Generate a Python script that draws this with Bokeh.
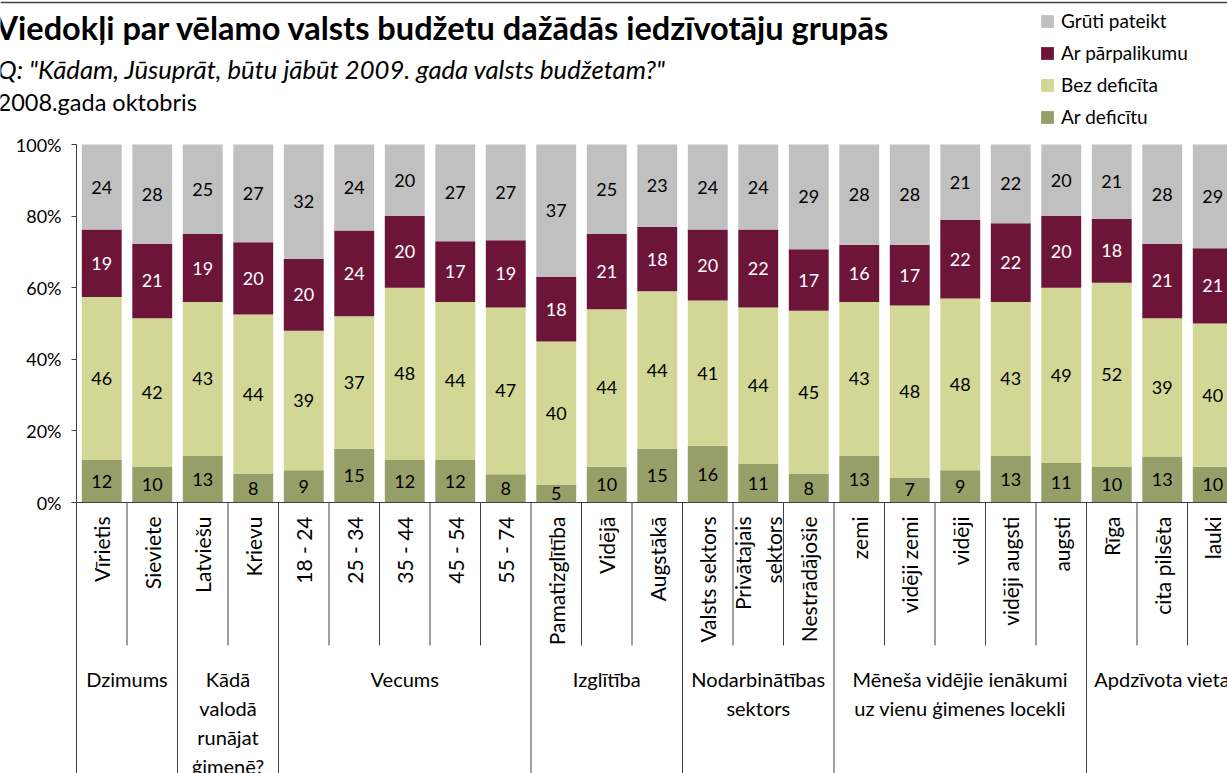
import numpy as np
from bokeh.plotting import figure
from bokeh.models import (ColumnDataSource, Range1d, FixedTicker, NumeralTickFormatter,
                          Span, Label, Legend, LegendItem, LinearAxis)
from bokeh.core.properties import value
from bokeh.embed import file_html
from bokeh.resources import INLINE

# ---------------- data ----------------
categories = ["Vīrietis", "Sieviete", "Latviešu", "Krievu", "18 - 24", "25 - 34", "35 - 44",
              "45 - 54", "55 - 74", "Pamatizglītība", "Vidējā", "Augstākā", "Valsts sektors",
              "Privātajais\nsektors", "Nestrādājošie", "zemi", "vidēji zemi", "vidēji",
              "vidēji augsti", "augsti", "Rīga", "cita pilsēta", "lauki"]
groups = ["Dzimums", "Kādā\nvalodā\nrunājat\nģimenē?", "Vecums", "Izglītība",
          "Nodarbinātības\nsektors", "Mēneša vidējie ienākumi\nuz vienu ģimenes locekli",
          "Apdzīvota vieta"]
group_sizes = [2, 2, 5, 3, 3, 5, 3]

ar_deficitu = [12, 10, 13, 8, 9, 15, 12, 12, 8, 5, 10, 15, 16, 11, 8, 13, 7, 9, 13, 11, 10, 13, 10]
bez_deficita = [46, 42, 43, 44, 39, 37, 48, 44, 47, 40, 44, 44, 41, 44, 45, 43, 48, 48, 43, 49, 52, 39, 40]
ar_parpalikumu = [19, 21, 19, 20, 20, 24, 20, 17, 19, 18, 21, 18, 20, 22, 17, 16, 17, 22, 22, 20, 18, 21, 21]
gruti_pateikt = [24, 28, 25, 27, 32, 24, 20, 27, 27, 37, 25, 23, 24, 24, 29, 28, 28, 21, 22, 20, 21, 28, 29]
series_names = ["Ar deficītu", "Bez deficīta", "Ar pārpalikumu", "Grūti pateikt"]
y_ticks = [0, 0.2, 0.4, 0.6, 0.8, 1.0]

title = "Viedokļi par vēlamo valsts budžetu dažādās iedzīvotāju grupās"
subtitle = "Q: \"Kādam, Jūsuprāt, būtu jābūt 2009. gada valsts budžetam?\""
period = "2008.gada oktobris"

# ---------------- style / layout ----------------
colors = ["#979F68", "#D2D796", "#6D1538", "#C0C0C0"]
label_colors = ["black", "black", "white", "black"]
FONT = "Lato"
W, H = 1227, 773
LEFT = 76          # px of the value axis
PITCH = 50.5       # px per category
ZERO = 502         # px of 0 %
UNIT = 358         # px of 100 %
LH = 1.21          # line height for multi-line group labels


def px2x(px):
    return (px - LEFT) / PITCH


def px2y(py):
    return (ZERO - py) / UNIT


p = figure(width=W, height=H, output_backend="svg", toolbar_location=None,
           x_range=Range1d(px2x(0), px2x(W)), y_range=Range1d(px2y(H), px2y(0)),
           x_axis_location=None, y_axis_location=None, min_border=0)
p.outline_line_color = None
p.grid.visible = False
p.background_fill_color = "white"
p.border_fill_color = "white"

yax = LinearAxis(fixed_location=0, ticker=FixedTicker(ticks=y_ticks),
                 formatter=NumeralTickFormatter(format="0%"), bounds=(px2y(H), 1.0))
yax.axis_line_color = "#404040"
yax.major_tick_line_color = "#404040"
yax.major_tick_out = 5
yax.major_tick_in = 0
yax.minor_tick_line_color = None
yax.major_label_standoff = 10
yax.major_label_text_font = FONT
yax.major_label_text_font_size = "18px"
yax.major_label_text_color = "black"
p.add_layout(yax, "left")

# ---------------- bars ----------------
vals = np.array([ar_deficitu, bez_deficita, ar_parpalikumu, gruti_pateikt], dtype=float)
frac = vals / vals.sum(axis=0)
tops = np.cumsum(frac, axis=0)
bottoms = tops - frac
xc = np.arange(len(categories)) + 0.5

renderers = []
for i, name in enumerate(series_names):
    src = ColumnDataSource(dict(x=xc, bottom=bottoms[i], top=tops[i],
                                mid=(bottoms[i] + tops[i]) / 2,
                                txt=[str(int(v)) for v in vals[i]]))
    r = p.vbar(x="x", bottom="bottom", top="top", width=0.79, source=src,
               fill_color=colors[i], line_color=None)
    renderers.append(r)
    p.text(x="x", y="mid", text="txt", source=src, text_align="center",
           text_baseline="middle", text_font=value(FONT), text_font_size="18px",
           text_color=label_colors[i])

# zero line
p.segment(x0=[px2x(LEFT - 5)], y0=[0], x1=[px2x(W + 5)], y1=[0],
          line_color="#404040", line_width=1)
# top border of chart area
p.add_layout(Span(location=px2y(2), dimension="width", line_color="#404040", line_width=1.5))

# ---------------- category table ----------------
bounds_group = np.cumsum(group_sizes)[:-1]
inner = [b for b in range(1, len(categories)) if b not in set(bounds_group)]
p.segment(x0=inner, y0=[0] * len(inner), x1=inner, y1=[px2y(645)] * len(inner),
          line_color="#404040", line_width=1)
p.segment(x0=list(bounds_group), y0=[0] * len(bounds_group), x1=list(bounds_group),
          y1=[px2y(H + 10)] * len(bounds_group), line_color="#404040", line_width=1)

p.text(x=xc, y=[px2y(516)] * len(categories), text=categories, angle=np.pi / 2,
       text_align="right", text_baseline="middle", text_font=value(FONT),
       text_font_size="21px", text_color="black", text_line_height=1.25)

starts = np.concatenate([[0], np.cumsum(group_sizes)[:-1]])
gx = starts + np.array(group_sizes) / 2
p.text(x=gx, y=[px2y(666)] * len(groups), text=groups, text_align="center",
       text_baseline="top", text_font=value(FONT), text_font_size="20px",
       text_color="black", text_line_height=LH)

# ---------------- titles ----------------
p.add_layout(Label(x=px2x(-5), y=px2y(27), text=title, text_font=FONT,
                   text_font_style="bold", text_font_size="32.5px", text_color="black",
                   text_baseline="alphabetic", text_align="left"))
p.add_layout(Label(x=px2x(-3), y=px2y(68), text=subtitle, text_font=FONT,
                   text_font_style="italic", text_font_size="25.7px", text_color="black",
                   text_baseline="alphabetic", text_align="left"))
p.add_layout(Label(x=px2x(-3), y=px2y(101), text=period, text_font=FONT,
                   text_font_size="23.5px", text_color="black",
                   text_baseline="alphabetic", text_align="left"))

# ---------------- legend ----------------
items = [LegendItem(label=series_names[i], renderers=[renderers[i]]) for i in range(3, -1, -1)]
legend = Legend(items=items, location="top_right", margin=9, padding=5, spacing=9,
                glyph_width=16, glyph_height=16, label_standoff=6, label_height=23,
                label_width=157, label_text_font=FONT, label_text_font_size="19px",
                label_text_color="black", border_line_color=None,
                background_fill_alpha=0)
p.add_layout(legend)

open("out.html", "w").write(file_html(p, INLINE))
